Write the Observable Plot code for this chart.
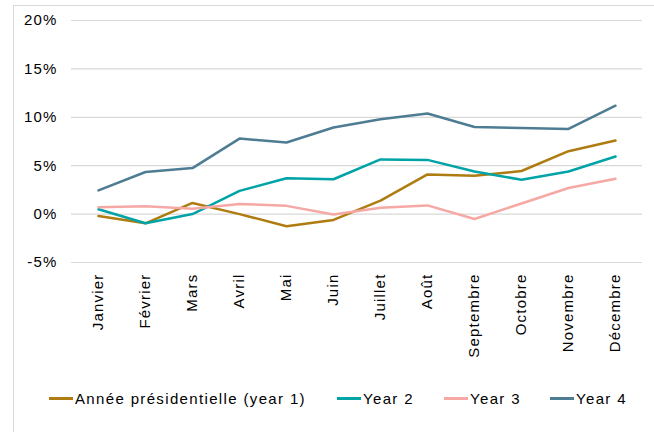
<!DOCTYPE html>
<html>
<head>
<meta charset="utf-8">
<script src="https://cdn.jsdelivr.net/npm/d3@7"></script>
<script src="https://cdn.jsdelivr.net/npm/@observablehq/plot@0.6"></script>
<style>
  html, body { margin: 0; padding: 0; background: #fff; width: 654px; height: 432px; overflow: hidden; }
  body { position: relative; font-family: "Liberation Sans", Arial, sans-serif; }
  #frame { position: absolute; left: 13px; top: 5px; width: 700px; height: 500px; border: 1px solid #d9d9d9; box-sizing: border-box; }
  #chart { position: absolute; left: 0; top: 0; }
  #legend { position: absolute; left: 0; top: 390px; width: 654px; height: 18px; font-size: 15px; letter-spacing: 1.35px; color: #000; }
  .item { position: absolute; top: 0; display: flex; align-items: center; white-space: nowrap; }
  .sw { display: inline-block; width: 24px; height: 3px; margin-right: 2px; }
</style>
</head>
<body>
<div id="frame"></div>
<div id="chart"></div>
<div id="legend"></div>
<script>
const months = ["Janvier", "Février", "Mars", "Avril", "Mai", "Juin", "Juillet", "Août", "Septembre", "Octobre", "Novembre", "Décembre"];
const seriesNames = ["Année présidentielle (year 1)", "Year 2", "Year 3", "Year 4"];
const seriesColors = ["#AE7C10", "#00A3A6", "#F6A8A4", "#4E7C93"];
const year1 = [-0.2, -0.95, 1.15, 0.0, -1.25, -0.6, 1.4, 4.1, 3.95, 4.45, 6.5, 7.6];
const year2 = [0.5, -0.95, 0.0, 2.4, 3.7, 3.6, 5.65, 5.6, 4.4, 3.55, 4.4, 5.95];
const year3 = [0.7, 0.8, 0.55, 1.05, 0.85, -0.05, 0.65, 0.9, -0.5, 1.1, 2.7, 3.65];
const year4 = [2.45, 4.35, 4.75, 7.8, 7.4, 8.95, 9.8, 10.4, 9.0, 8.9, 8.8, 11.2];
const yTicks = [-5, 0, 5, 10, 15, 20];

const allSeries = [year1, year2, year3, year4];
const rows = [];
allSeries.forEach((vals, s) => {
  vals.forEach((v, i) => rows.push({ series: seriesNames[s], month: months[i], value: v }));
});

const chart = Plot.plot({
  width: 654,
  height: 380,
  marginLeft: 71,
  marginRight: 12,
  marginTop: 20,
  marginBottom: 118,
  style: { fontFamily: "'Liberation Sans', Arial, sans-serif", fontSize: "15px", color: "#000", background: "transparent", overflow: "visible" },
  x: { domain: months, type: "point", padding: 0.5, label: null },
  y: { domain: [-5, 20], label: null },
  color: { domain: seriesNames, range: seriesColors },
  marks: [
    Plot.gridY(yTicks, { stroke: "#d9d9d9", strokeOpacity: 1, strokeWidth: 1.2 }),
    Plot.axisY(yTicks, { tickSize: 0, tickPadding: 14, tickFormat: d => d + "%", fontSize: 15, label: null }),
    Plot.axisX({ tickSize: 0, tickPadding: 11, tickRotate: -90, fontSize: 15, label: null }),
    Plot.line(rows, { x: "month", y: "value", z: "series", stroke: "series", strokeWidth: 2.5, strokeLinejoin: "round" })
  ]
});
chart.querySelectorAll("text").forEach(t => t.style.letterSpacing = "1.2px");
document.getElementById("chart").appendChild(chart);

const legendPos = [49, 337, 444, 550];
const legend = document.getElementById("legend");
seriesNames.forEach((name, i) => {
  const item = document.createElement("div");
  item.className = "item";
  item.style.left = legendPos[i] + "px";
  const sw = document.createElement("span");
  sw.className = "sw";
  sw.style.background = seriesColors[i];
  const label = document.createElement("span");
  label.textContent = name;
  item.appendChild(sw);
  item.appendChild(label);
  legend.appendChild(item);
});
</script>
</body>
</html>
